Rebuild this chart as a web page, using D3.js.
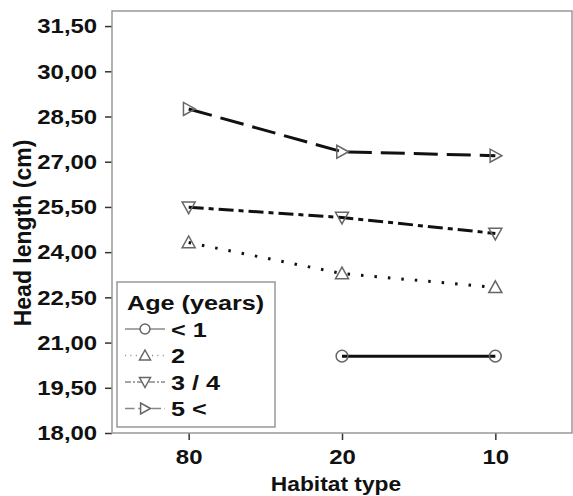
<!DOCTYPE html>
<html>
<head>
<meta charset="utf-8">
<script src="https://cdn.jsdelivr.net/npm/d3@7"></script>
<style>
  body { margin: 0; background: #fff; }
  text { font-family: "Liberation Sans", Arial, sans-serif; font-weight: bold; fill: #111; }
</style>
</head>
<body>
<div id="chart"></div>
<script>
// data
const habitats = ["80", "20", "10"];
const ages = ["< 1", " 2", "3 / 4", "5 <"];
const lt1 = [null, 20.55, 20.55];
const age2 = [24.32, 23.29, 22.83];
const age34 = [25.49, 25.15, 24.62];
const age5 = [28.75, 27.33, 27.2];
const yTicks = [18, 19.5, 21, 22.5, 24, 25.5, 27, 28.5, 30, 31.5];

const series = [
  { name: ages[0], values: lt1, dash: null, marker: "circle" },
  { name: ages[1], values: age2, dash: "2.5,11", marker: "up" },
  { name: ages[2], values: age34, dash: "15,5,5,5", marker: "down" },
  { name: ages[3], values: age5, dash: "24,9", marker: "right" }
];

const W = 573, H = 496;
const margin = { top: 11, right: 1, bottom: 63, left: 112 };
const width = W - margin.left - margin.right,
      height = H - margin.top - margin.bottom;
const stretch = 1.14; // the picture's text looks wider than the font

const svg = d3.select("#chart").append("svg")
  .attr("width", W).attr("height", H);
const g = svg.append("g")
  .attr("transform", `translate(${margin.left},${margin.top})`);

const x = d3.scalePoint().domain(habitats).range([0, width]).padding(0.5);
const y = d3.scaleLinear().domain([18, 32]).range([height, 0]);

const fmt = v => d3.format(".2f")(v).replace(".", ",");

// axes
const yAxis = g.append("g")
  .call(d3.axisLeft(y).tickValues(yTicks).tickFormat(fmt).tickSize(7).tickPadding(6));
const xAxis = g.append("g")
  .attr("transform", `translate(0,${height})`)
  .call(d3.axisBottom(x).tickSize(7).tickPadding(9));
[yAxis, xAxis].forEach(a => {
  a.select(".domain").remove();
  a.selectAll("line").attr("stroke", "#333").attr("stroke-width", 1.5);
  a.selectAll("text").style("font-size", "21px").attr("fill", "#111")
    .attr("transform", `scale(${stretch},1)`);
});

// frame
g.append("rect")
  .attr("width", width).attr("height", height)
  .attr("fill", "none").attr("stroke", "#999").attr("stroke-width", 1.5);

function marker(sel, type, s) {
  let p;
  if (type === "circle") {
    sel.append("circle").attr("r", s * 0.45);
    return;
  }
  if (type === "up") p = [[0, -s * 0.5], [s * 0.5, s * 0.4], [-s * 0.5, s * 0.4]];
  if (type === "down") p = [[0, s * 0.5], [s * 0.5, -s * 0.4], [-s * 0.5, -s * 0.4]];
  if (type === "right") p = [[s * 0.5, 0], [-s * 0.4, -s * 0.5], [-s * 0.4, s * 0.5]];
  sel.append("path").attr("d", "M" + p.join("L") + "Z");
}

const line = d3.line().x(d => x(d.h)).y(d => y(d.v));

series.forEach(s => {
  const pts = s.values.map((v, i) => ({ h: habitats[i], v })).filter(d => d.v != null);
  g.append("path")
    .attr("fill", "none")
    .attr("stroke", "#111")
    .attr("stroke-width", 3)
    .attr("stroke-dasharray", s.dash)
    .attr("d", line(pts));
  pts.forEach(d => {
    const m = g.append("g")
      .attr("transform", `translate(${x(d.h)},${y(d.v)})`)
      .attr("fill", "none").attr("stroke", "#666").attr("stroke-width", 1.5);
    marker(m, s.marker, 13);
  });
});

// legend
const lg = svg.append("g").attr("transform", "translate(117,282)");
lg.append("rect").attr("width", 158).attr("height", 145)
  .attr("fill", "#fff").attr("stroke", "#999").attr("stroke-width", 1.5);
lg.append("text").attr("transform", "translate(10,28) scale(1.2,1)")
  .style("font-size", "21px").text("Age (years)");
series.forEach((s, i) => {
  const cy = 47 + i * 26.5;
  lg.append("line").attr("x1", 8).attr("x2", 48).attr("y1", cy).attr("y2", cy)
    .attr("stroke", "#888").attr("stroke-width", 1.5)
    .attr("stroke-dasharray", s.dash ? s.dash.split(",").map(v => v / 2.5).join(",") : null);
  const m = lg.append("g").attr("transform", `translate(28,${cy})`)
    .attr("fill", "#fff").attr("stroke", "#666").attr("stroke-width", 1.5);
  marker(m, s.marker, 11);
  lg.append("text").attr("transform", `translate(54,${cy}) scale(1.2,1)`).attr("dy", "0.36em")
    .style("font-size", "21px").text(s.name);
});

// axis titles
svg.append("text")
  .attr("transform", `translate(${margin.left + width / 2 - 6},491) scale(${stretch},1)`)
  .attr("text-anchor", "middle").style("font-size", "20px").text("Habitat type");
svg.append("text")
  .attr("transform", `translate(31,233) rotate(-90)`)
  .attr("text-anchor", "middle").style("font-size", "23px").text("Head length (cm)");
</script>
</body>
</html>
